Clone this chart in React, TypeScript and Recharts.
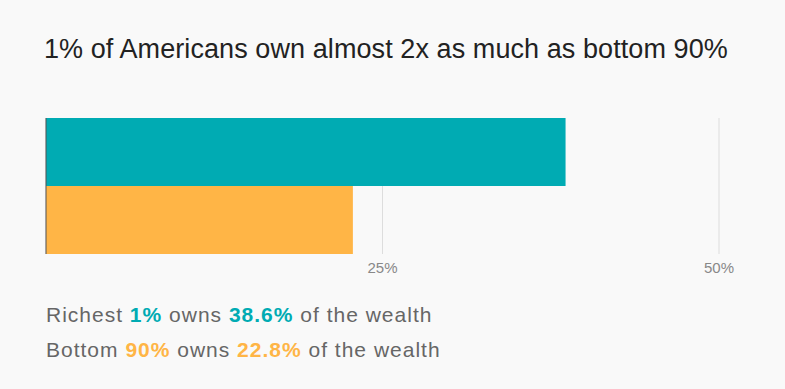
import React from 'react'
import { BarChart, Bar, XAxis, YAxis, CartesianGrid, Cell, ReferenceLine } from 'recharts'

const groups = ['Richest 1%', 'Bottom 90%']
const shares = [38.6, 22.8]
const barColors = ['#00abb3', '#ffb546']
const xTicks = [25, 50]

const data = groups.map((g, i) => ({ group: g, share: shares[i] }))

const font = '"Liberation Sans", Arial, Helvetica, sans-serif'

export default function App() {
  return (
    <div style={{ position: 'relative', width: 785, height: 389, background: '#f9f9f9', fontFamily: font, overflow: 'hidden' }}>
      <style>{'body{margin:0;background:#f9f9f9}'}</style>
      <div style={{ position: 'absolute', left: 44, top: 33, fontSize: 27, lineHeight: '32px', color: '#222', letterSpacing: 0.08 }}>
        1% of Americans own almost 2x as much as bottom 90%
      </div>
      <div style={{ position: 'absolute', left: 0, top: 0 }}>
        <BarChart
          width={785}
          height={290}
          data={data}
          layout="vertical"
          margin={{ top: 118, right: 66, bottom: 0, left: 46 }}
          barCategoryGap={0}
        >
          <CartesianGrid horizontal={false} stroke="#dddddd" />
          <XAxis
            type="number"
            domain={[0, 50]}
            ticks={xTicks}
            tickFormatter={(v) => `${v}%`}
            axisLine={false}
            tickLine={false}
            height={36}
            tick={{ fill: '#888', fontSize: 15, fontFamily: font }}
          />
          <YAxis type="category" dataKey="group" width={0} tick={false} tickLine={false} axisLine={false} />
          <Bar dataKey="share" isAnimationActive={false}>
            {data.map((d, i) => (
              <Cell key={d.group} fill={barColors[i]} />
            ))}
          </Bar>
          <ReferenceLine x={0} stroke="#555" strokeWidth={1} />
        </BarChart>
      </div>
      <div style={{ position: 'absolute', left: 46, top: 297, fontSize: 21, lineHeight: '35px', color: '#666', letterSpacing: 1 }}>
        <div>
          Richest <b style={{ color: barColors[0] }}>1%</b> owns <b style={{ color: barColors[0] }}>{shares[0]}%</b> of the wealth
        </div>
        <div>
          Bottom <b style={{ color: barColors[1] }}>90%</b> owns <b style={{ color: barColors[1] }}>{shares[1]}%</b> of the wealth
        </div>
      </div>
    </div>
  )
}
